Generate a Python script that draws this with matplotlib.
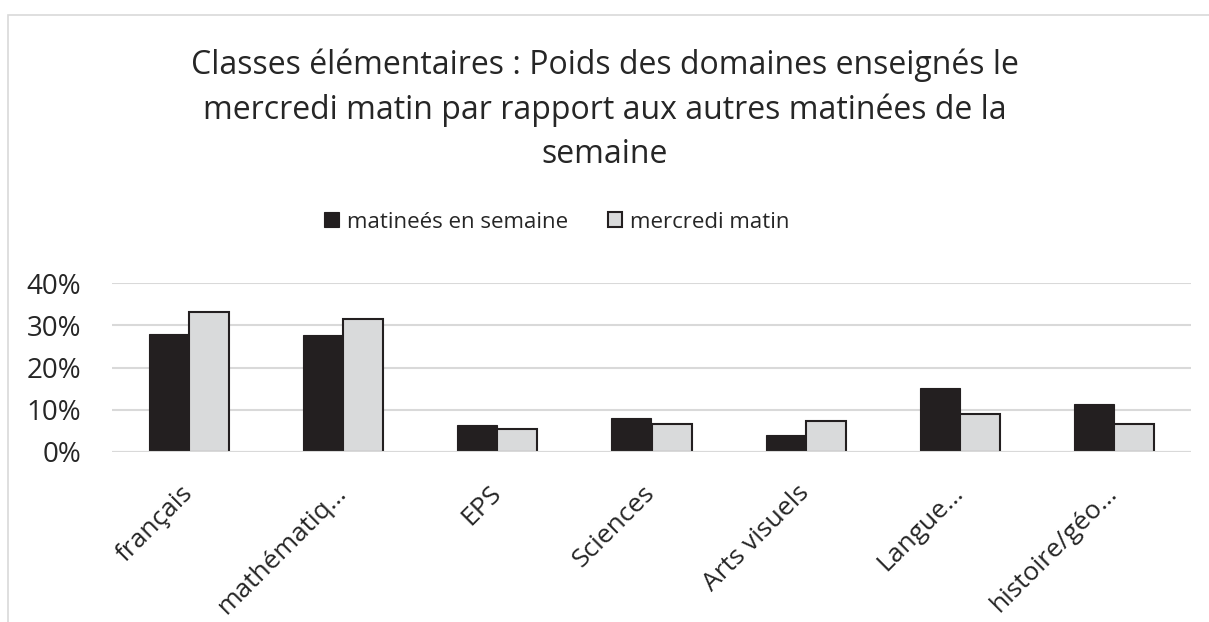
import numpy as np
import matplotlib
matplotlib.use("Agg")
import matplotlib.pyplot as plt
from matplotlib.patches import Rectangle
from matplotlib.ticker import FuncFormatter

plt.rcParams['font.family'] = ['Open Sans', 'DejaVu Sans']

categories = ['français', 'mathématiq…', 'EPS', 'Sciences', 'Arts visuels',
              'Langue…', 'histoire/géo…']
semaine = [0.279, 0.278, 0.063, 0.081, 0.040, 0.152, 0.113]
mercredi = [0.331, 0.315, 0.054, 0.066, 0.073, 0.091, 0.066]

dark = '#231f20'
light = '#d9dadb'
grid = '#d9d9d9'
txt = '#262626'

fig = plt.figure(figsize=(12.09, 6.22), dpi=100)
ax = fig.add_axes([112 / 1209, 1 - 452 / 622, (1191 - 112) / 1209, (452 - 283) / 622])

# chart frame
fig.patches.append(Rectangle((8 / 1209, -0.1), 1.2, 1 - 15 / 622 + 0.1,
                             transform=fig.transFigure, fill=False,
                             edgecolor='#d9d9d9', linewidth=1.2))

x = np.arange(len(categories))
w = 0.26
ax.bar(x - w / 2, semaine, w, color=dark, edgecolor=dark, linewidth=0.8,
       label='matineés en semaine', zorder=3)
ax.bar(x + w / 2, mercredi, w, color=light, edgecolor=dark, linewidth=1.5,
       label='mercredi matin', zorder=3)

ax.set_xlim(-0.5, len(categories) - 0.5)
ax.set_ylim(0, 0.4)
ax.set_yticks([0, 0.1, 0.2, 0.3, 0.4])
ax.yaxis.set_major_formatter(FuncFormatter(lambda v, p: '{:.0f}%'.format(v * 100)))
ax.grid(axis='y', color=grid, linewidth=1.5, zorder=0)
ax.axhline(0, color=grid, linewidth=1.5, zorder=4)
for s in ax.spines.values():
    s.set_visible(False)
ax.tick_params(axis='both', length=0, labelsize=20, labelcolor=txt)
ax.tick_params(axis='y', pad=22)
ax.set_xticks(x)
ax.set_xticklabels(categories, rotation=45, ha='right', va='center',
                   rotation_mode='anchor')
ax.tick_params(axis='x', pad=27, labelsize=19)

fig.text(0.5, 1 - 110 / 622,
         'Classes élémentaires : Poids des domaines enseignés le\n'
         'mercredi matin par rapport aux autres matinées de la\nsemaine',
         ha='center', va='center', fontsize=23, color=txt, linespacing=1.45)

leg = fig.legend(loc='center', bbox_to_anchor=(557 / 1209, 1 - 222 / 622), ncol=2,
                 frameon=False, fontsize=16, handlelength=0.65, handleheight=0.65,
                 handletextpad=0.35, columnspacing=1.8, labelcolor=txt)

fig.savefig('out.png', dpi=100)
